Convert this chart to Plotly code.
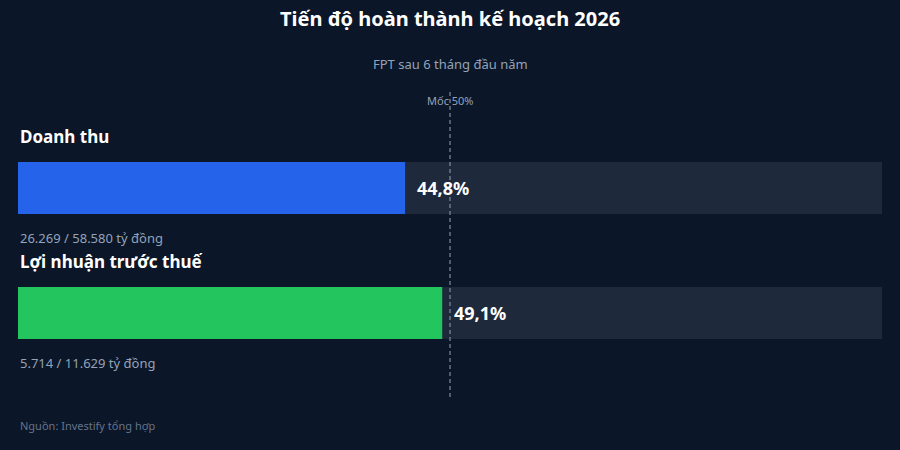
import plotly.graph_objects as go

categories = ["Doanh thu", "Lợi nhuận trước thuế"]
percent = [44.8, 49.1]
actual = ["26.269", "5.714"]
plan = ["58.580", "11.629"]
colors = ["#2563eb", "#22c55e"]
milestone = 50

# layout positions (pixel space, y downward)
bar_y = [188, 313]
bar_h = 52

fig = go.Figure()
fig.add_trace(go.Bar(x=[100]*2, y=bar_y, orientation="h", width=bar_h,
                     marker=dict(color="#1e293b", line=dict(width=0)), hoverinfo="skip", showlegend=False))
fig.add_trace(go.Bar(x=percent, y=bar_y, orientation="h", width=bar_h,
                     marker=dict(color=colors, line=dict(width=0)), showlegend=False))
F = "Noto Sans"
for i, c in enumerate(categories):
    fig.add_annotation(x=0, y=bar_y[i]-bar_h/2-12, text=f"<b>{c}</b>", xanchor="left", yanchor="bottom",
                       showarrow=False, font=dict(family=F, size=17, color="#ffffff"))
    fig.add_annotation(x=percent[i], y=bar_y[i], text=f"<b>{str(percent[i]).replace('.', ',')}%</b>",
                       xanchor="left", xshift=10, showarrow=False,
                       font=dict(family=F, size=18, color="#ffffff"))
    fig.add_annotation(x=0, y=bar_y[i]+bar_h/2+24, text=f"{actual[i]} / {plan[i]} tỷ đồng",
                       xanchor="left", showarrow=False, font=dict(family=F, size=13, color="#94a3b8"))
fig.add_shape(type="line", x0=milestone, x1=milestone, y0=92, y1=400, xref="x", yref="y",
              line=dict(color="#94a3b8", width=1, dash="4px,3px"))
fig.add_annotation(x=milestone, y=100, text=f"Mốc {milestone}%", showarrow=False,
                   font=dict(family=F, size=11, color="#94a3b8"))
fig.add_annotation(x=0.5, xref="paper", y=18, text="<b>Tiến độ hoàn thành kế hoạch 2026</b>",
                   showarrow=False, font=dict(family=F, size=20, color="#ffffff"))
fig.add_annotation(x=0.5, xref="paper", y=64, text="FPT sau 6 tháng đầu năm",
                   showarrow=False, font=dict(family=F, size=13, color="#94a3b8"))
fig.add_annotation(x=0, y=425, text="Nguồn: Investify tổng hợp", xanchor="left",
                   showarrow=False, font=dict(family=F, size=11, color="#64748b"))

fig.update_layout(width=900, height=450, margin=dict(l=18, r=18, t=0, b=0),
                  paper_bgcolor="#0b1628", plot_bgcolor="#0b1628", barmode="overlay",
                  xaxis=dict(range=[0, 100], visible=False, fixedrange=True),
                  yaxis=dict(range=[450, 0], visible=False, fixedrange=True))
fig.write_html("out.html", config={"displayModeBar": False},
               post_script="document.body.style.margin='0';document.body.style.background='#0b1628';")
